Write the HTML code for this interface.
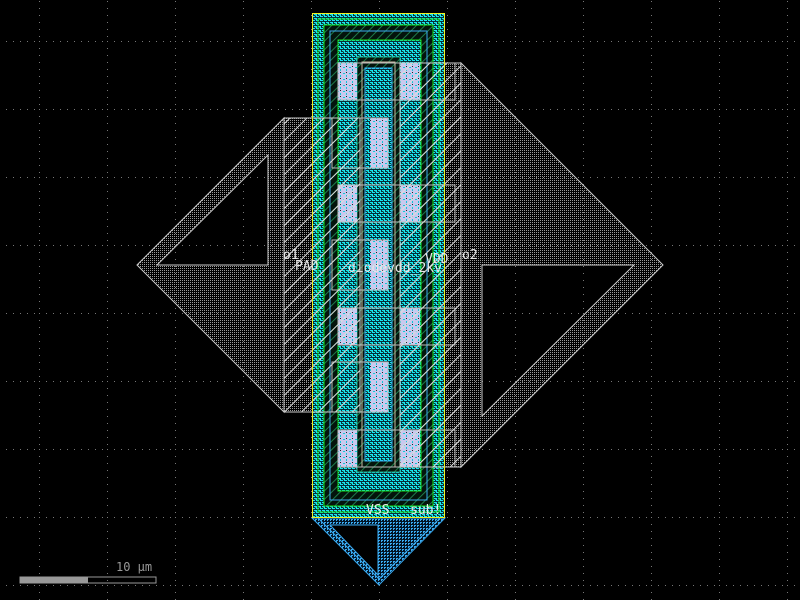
<!DOCTYPE html>
<html><head><meta charset="utf-8"><style>
html,body{margin:0;padding:0;background:#000;width:800px;height:600px;overflow:hidden}
svg{display:block}
text{font-family:"DejaVu Sans Mono","Liberation Mono",monospace;font-size:13px;fill:#e8e8e8}
</style></head><body>
<svg width="800" height="600" viewBox="0 0 800 600" xmlns="http://www.w3.org/2000/svg">
<defs>
<pattern id="grid" x="39" y="41" width="68" height="68" patternUnits="userSpaceOnUse">
<g fill="#777">
<rect x="0" y="0" width="1" height="1"/><rect x="0" y="7" width="1" height="1"/><rect x="0" y="14" width="1" height="1"/><rect x="0" y="21" width="1" height="1"/><rect x="0" y="28" width="1" height="1"/><rect x="0" y="35" width="1" height="1"/><rect x="0" y="42" width="1" height="1"/><rect x="0" y="49" width="1" height="1"/><rect x="0" y="56" width="1" height="1"/><rect x="0" y="63" width="1" height="1"/>
<rect x="7" y="0" width="1" height="1"/><rect x="14" y="0" width="1" height="1"/><rect x="21" y="0" width="1" height="1"/><rect x="28" y="0" width="1" height="1"/><rect x="35" y="0" width="1" height="1"/><rect x="42" y="0" width="1" height="1"/><rect x="49" y="0" width="1" height="1"/><rect x="56" y="0" width="1" height="1"/><rect x="63" y="0" width="1" height="1"/>
</g></pattern>
<pattern id="wdot" width="2" height="2" patternUnits="userSpaceOnUse"><rect width="1" height="1" fill="#999"/></pattern>
<pattern id="whatch" width="12" height="12" patternUnits="userSpaceOnUse" patternTransform="rotate(45)"><rect x="0" y="0" width="1" height="12" fill="#ddd"/></pattern>
<pattern id="cyan" width="4" height="4" patternUnits="userSpaceOnUse"><rect width="4" height="4" fill="#05303a"/><rect width="3" height="1" fill="#18e4f0"/><rect x="0" y="2" width="1" height="2" fill="#18e4f0"/><rect x="2" y="2" width="2" height="1" fill="#18e4f0"/><rect x="3" y="3" width="1" height="1" fill="#1a9a70"/></pattern>
<pattern id="green" width="6" height="6" patternUnits="userSpaceOnUse" patternTransform="rotate(45)"><rect width="6" height="6" fill="#04140c"/><rect width="1" height="6" fill="#1e7a4a"/></pattern>
<pattern id="blue" width="3" height="3" patternUnits="userSpaceOnUse"><rect width="3" height="3" fill="#021526"/><rect width="2" height="1" fill="#3aaaf0"/><rect y="1" width="1" height="1" fill="#3aaaf0"/></pattern>
<pattern id="lav" width="6" height="6" patternUnits="userSpaceOnUse"><rect width="6" height="6" fill="#c9c9ee"/><rect x="1" y="1" width="2" height="1" fill="#10c8d8"/><rect x="4" y="3" width="1" height="2" fill="#10c8d8"/><rect x="4" y="0" width="1" height="1" fill="#222"/></pattern>
</defs>
<rect width="800" height="600" fill="url(#grid)"/>

<path d="M137,265 L284,118 L284,412 Z M157,265 L268,265 L268,155 Z" fill="url(#wdot)" fill-rule="evenodd" stroke="#ccc" stroke-width="1"/>
<rect x="284" y="118" width="28" height="294" fill="url(#wdot)"/>
<path d="M461,63 L663,265 L461,467 Z M482,265 L634,265 L482,416 Z" fill="url(#wdot)" fill-rule="evenodd" stroke="#ccc" stroke-width="1"/>
<rect x="445" y="63" width="16" height="404" fill="url(#wdot)"/>

<path d="M312,518 L445,518 L379,585 Z M330,525 L378,525 L378,575 Z" fill="url(#blue)" fill-rule="evenodd" stroke="#3aaaf0"/>
<path d="M318,518 L379,579 L440,518" fill="none" stroke="#3aaaf0"/>

<rect x="312" y="13" width="133" height="505" fill="url(#green)"/>
<path d="M313,14 H444 V517 H313 Z M324,25 V506 H433 V25 Z" fill="url(#cyan)" fill-rule="evenodd"/>
<rect x="318" y="19" width="121" height="493" fill="none" stroke="#18e018" stroke-width="1"/>
<rect x="324" y="25" width="109" height="481" fill="none" stroke="#18e018" stroke-width="1"/>
<rect x="330" y="31" width="97" height="469" fill="none" stroke="#3aaaf0" stroke-width="1"/>
<rect x="338" y="40" width="83" height="451" fill="url(#cyan)" stroke="#18e018"/>
<rect x="357" y="57" width="43" height="415" fill="url(#green)" stroke="#2a8"/>
<rect x="362" y="62" width="33" height="405" fill="none" stroke="#c8b8a0"/>
<rect x="365" y="68" width="27" height="393" fill="url(#cyan)" stroke="#3aaaf0"/>

<g fill="url(#lav)">
<rect x="338" y="63" width="19" height="37"/><rect x="400" y="63" width="20" height="37"/>
<rect x="338" y="185" width="19" height="37"/><rect x="400" y="185" width="20" height="37"/>
<rect x="338" y="308" width="19" height="37"/><rect x="400" y="308" width="20" height="37"/>
<rect x="338" y="430" width="19" height="37"/><rect x="400" y="430" width="20" height="37"/>
<rect x="370" y="118" width="18" height="50"/><rect x="370" y="240" width="18" height="50"/><rect x="370" y="362" width="18" height="50"/>
</g>
<g fill="none" stroke="#bbb">
<rect x="338" y="63" width="117" height="37"/>
<rect x="338" y="185" width="117" height="37"/>
<rect x="338" y="308" width="117" height="37"/>
<rect x="338" y="430" width="117" height="37"/>
<rect x="332" y="118" width="56" height="50"/>
<rect x="332" y="240" width="56" height="50"/>
<rect x="332" y="362" width="56" height="50"/>
</g>
<rect x="284" y="118" width="76" height="294" fill="url(#whatch)" stroke="#ccc"/>
<rect x="400" y="63" width="61" height="404" fill="url(#whatch)" stroke="#ccc"/>
<rect x="312.5" y="13.5" width="132" height="504" fill="none" stroke="#f0f020"/>

<text x="283" y="259">o1</text>
<text x="295" y="270">PAD</text>
<text x="348" y="272">diodevdd_2kv</text>
<text x="425" y="263">VDD</text>
<text x="462" y="259">o2</text>
<text x="366" y="514">VSS</text>
<text x="410" y="514">sub!</text>

<rect x="20" y="577" width="136" height="6" fill="none" stroke="#999"/>
<rect x="20" y="577" width="68" height="6" fill="#999"/>
<text x="116" y="571" style="fill:#999;font-size:12px">10 µm</text>
</svg>
</body></html>
